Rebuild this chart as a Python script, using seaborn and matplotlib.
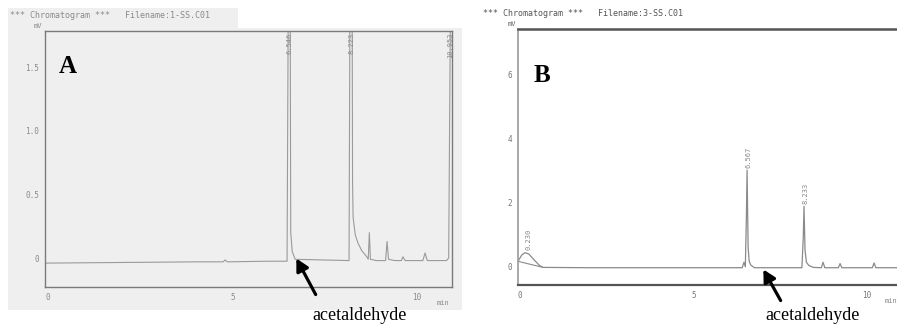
import matplotlib
matplotlib.use("Agg")
import matplotlib.pyplot as plt
from matplotlib.patches import Rectangle, FancyArrowPatch
import seaborn as sns
import pandas as pd

sns.set_style("white")
plt.rcParams['font.family'] = ['DejaVu Sans']

# ---------------- data ----------------
A_time = [-0.08, 2.0, 4.0, 4.75, 4.80, 4.86, 6.00, 6.48, 6.52, 6.56, 6.58, 6.62, 6.70,
          8.16, 8.19, 8.24, 8.255, 8.27, 8.33, 8.40, 8.50, 8.64, 8.68, 8.71, 8.74, 8.90,
          9.15, 9.19, 9.23, 9.40, 9.58, 9.62, 9.68, 10.16, 10.22, 10.28, 10.80, 10.86, 10.92]
A_signal = [-0.04, -0.035, -0.03, -0.03, -0.015, -0.03, -0.025, -0.025, 2.5, 2.5, 0.20, 0.05, -0.01,
            -0.02, 2.5, 2.5, 0.60, 0.32, 0.18, 0.12, 0.06, 0.01, -0.01, 0.20, -0.01, -0.02,
            -0.02, 0.13, -0.01, -0.02, -0.02, 0.01, -0.02, -0.02, 0.04, -0.02, -0.02, 0.0, 2.5]
A_peak_times = [6.546, 8.223, 10.953]
A_peak_labels = ["6.546", "8.223", "10.953"]

B_time = [-0.06, 0.05, 0.14, 0.25, 0.40, 0.55, 0.66, 2.0, 4.0, 6.40, 6.45, 6.49, 6.52, 6.54,
          6.57, 6.60, 6.65, 6.75, 8.12, 8.16, 8.18, 8.21, 8.25, 8.32, 8.45, 8.68, 8.73, 8.78,
          9.17, 9.22, 9.27, 10.15, 10.20, 10.25, 10.86]
B_signal = [0.15, 0.35, 0.42, 0.38, 0.20, 0.03, -0.04, -0.05, -0.05, -0.05, 0.12, -0.02, 1.5, 3.0,
            0.6, 0.15, 0.03, -0.05, -0.05, 0.9, 1.87, 0.5, 0.12, 0.02, -0.04, -0.05, 0.12, -0.05,
            -0.05, 0.08, -0.05, -0.05, 0.10, -0.05, -0.05]
B_base_time = [-0.06, 0.66]
B_base_signal = [0.15, -0.04]
B_peak_times = [0.230, 6.567, 8.233]
B_peak_heights = [0.42, 3.0, 1.87]
B_peak_labels = ["0.230", "6.567", "8.233"]

A_yticks = [0, 0.5, 1.0, 1.5]
A_yticklabels = ["0", "0.5", "1.0", "1.5"]
B_yticks = [0, 2, 4, 6]
B_yticklabels = ["0", "2", "4", "6"]
xticks = [0, 5, 10]
xticklabels = ["0", "5", "10"]

# ---------------- figure ----------------
W, H = 897, 325
fig = plt.figure(figsize=(W / 100, H / 100), dpi=100)
fig.patch.set_facecolor("white")

def fx(x):
    return x / W

def fy(y):
    return 1 - y / H

def ax_rect(l, t, r, b):
    return [fx(l), fy(b), (r - l) / W, (b - t) / H]

GRAY_BG = "#efefef"
# scanned gray background of panel A
fig.add_artist(Rectangle((fx(8), fy(310)), (462 - 8) / W, (310 - 28) / H,
                         transform=fig.transFigure, facecolor=GRAY_BG, edgecolor="none", zorder=0))
fig.add_artist(Rectangle((fx(8), fy(30)), (238 - 8) / W, (30 - 8) / H,
                         transform=fig.transFigure, facecolor=GRAY_BG, edgecolor="none", zorder=0))

mono = "DejaVu Sans Mono"
serif = "Liberation Serif"

# ---------------- panel A ----------------
axA = fig.add_axes(ax_rect(45, 31, 452, 287))
axA.set_facecolor(GRAY_BG)
dfA = pd.DataFrame({"t": A_time, "mV": A_signal})
sns.lineplot(data=dfA, x="t", y="mV", ax=axA, color="#9a9a9a", lw=0.8,
             sort=False, estimator=None)
axA.set_xlim(-0.08, 10.95)
axA.set_ylim(-0.228, 1.787)
axA.set_xticks(xticks)
axA.set_xticklabels(xticklabels)
axA.set_yticks(A_yticks)
axA.set_yticklabels(A_yticklabels)
axA.set_xlabel("")
axA.set_ylabel("")
for s in axA.spines.values():
    s.set_color("#7a7a7a")
    s.set_linewidth(1.0)
axA.tick_params(length=2, width=0.6, color="#888", labelcolor="#8a8a8a", labelsize=5.5, pad=2)
for lab in axA.get_xticklabels() + axA.get_yticklabels():
    lab.set_family(mono)
for t, lab in zip(A_peak_times, A_peak_labels):
    axA.text(min(t, 10.90), 1.775, lab, rotation=90, va="top", ha="center",
             fontsize=5, color="#8a8a8a", family=mono)
axA.text(0.035, 0.86, "A", transform=axA.transAxes, fontsize=18, fontweight="bold",
         family=serif, va="center", ha="left", color="black")

fig.text(fx(10), fy(16), "*** Chromatogram ***   Filename:1-SS.C01", fontsize=6,
         family=mono, color="#8a8a8a", va="center", ha="left")
fig.text(fx(34), fy(26), "mV", fontsize=5, family=mono, color="#8a8a8a", va="center", ha="left")
fig.text(fx(437), fy(303), "min", fontsize=5, family=mono, color="#8a8a8a", va="center", ha="left")

# ---------------- panel B ----------------
axB = fig.add_axes(ax_rect(518, 29, 897, 285))
axB.set_facecolor("white")
dfB = pd.DataFrame({"t": B_time, "mV": B_signal})
sns.lineplot(data=dfB, x="t", y="mV", ax=axB, color="#8a8a8a", lw=0.9,
             sort=False, estimator=None)
dfBb = pd.DataFrame({"t": B_base_time, "mV": B_base_signal})
sns.lineplot(data=dfBb, x="t", y="mV", ax=axB, color="#8a8a8a", lw=0.8,
             sort=False, estimator=None)
axB.set_xlim(-0.06, 10.86)
axB.set_ylim(-0.59, 7.41)
axB.set_xticks(xticks)
axB.set_xticklabels(xticklabels)
axB.set_yticks(B_yticks)
axB.set_yticklabels(B_yticklabels)
axB.set_xlabel("")
axB.set_ylabel("")
axB.spines["right"].set_visible(False)
axB.spines["left"].set_color("#999")
axB.spines["left"].set_linewidth(1.2)
axB.spines["top"].set_color("#555")
axB.spines["top"].set_linewidth(1.8)
axB.spines["bottom"].set_color("#555")
axB.spines["bottom"].set_linewidth(1.6)
axB.tick_params(length=2, width=0.6, color="#888", labelcolor="#777", labelsize=5.5, pad=2)
for lab in axB.get_xticklabels() + axB.get_yticklabels():
    lab.set_family(mono)
for t, h, lab in zip(B_peak_times, B_peak_heights, B_peak_labels):
    axB.text(t, h + 0.08, lab, rotation=90, va="bottom", ha="center",
             fontsize=5, color="#888", family=mono)
axB.text(0.04, 0.82, "B", transform=axB.transAxes, fontsize=18, fontweight="bold",
         family=serif, va="center", ha="left", color="black")

fig.text(fx(483), fy(14), "*** Chromatogram ***   Filename:3-SS.C01", fontsize=6,
         family=mono, color="#555", va="center", ha="left")
fig.text(fx(508), fy(24), "mV", fontsize=5, family=mono, color="#666", va="center", ha="left")
fig.text(fx(885), fy(301), "min", fontsize=5, family=mono, color="#888", va="center", ha="left")

# ---------------- arrows + labels ----------------
for (x0, y0, x1, y1, tx) in [(317, 297, 295, 256, 360), (782, 303, 762, 267, 813)]:
    fig.add_artist(FancyArrowPatch(
        (fx(x0), fy(y0)), (fx(x1), fy(y1)), transform=fig.transFigure,
        arrowstyle="-|>,head_length=4.5,head_width=2.4", color="black", lw=2.3,
        mutation_scale=1.6, zorder=5))
    fig.text(fx(tx), fy(316), "acetaldehyde", fontsize=13, family=serif,
             color="black", va="center", ha="center")

fig.savefig("out.png", dpi=100, facecolor="white")
